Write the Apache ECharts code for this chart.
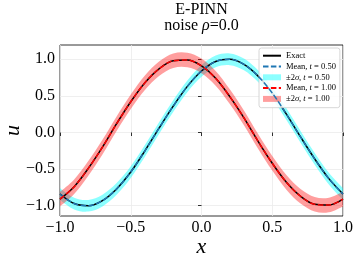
<!DOCTYPE html>
<html><head><meta charset="utf-8">
<script src="https://cdn.jsdelivr.net/npm/echarts@6/dist/echarts.min.js"></script>
<style>html,body{margin:0;padding:0;background:#fff}#c{width:357px;height:261px}</style>
</head><body><div id="c"></div>
<script>
// ---- data ----
const xValues = [-1.0,-0.9,-0.8,-0.7,-0.6,-0.5,-0.4,-0.3,-0.2,-0.1,0.0,0.1,0.2,0.3,0.4,0.5,0.6,0.7,0.8,0.9,1.0];
const exactT050 = [-0.84,-0.97,-1.00,-0.93,-0.77,-0.54,-0.25,0.06,0.36,0.63,0.84,0.97,1.00,0.93,0.77,0.54,0.25,-0.06,-0.36,-0.63,-0.84];
const meanT050  = [-0.84,-0.97,-1.00,-0.93,-0.77,-0.54,-0.25,0.06,0.36,0.63,0.84,0.97,1.00,0.93,0.77,0.54,0.25,-0.06,-0.36,-0.63,-0.84];
const twoSigmaT050 = [0.08,0.08,0.08,0.08,0.08,0.08,0.08,0.08,0.08,0.08,0.08,0.08,0.08,0.08,0.08,0.08,0.08,0.08,0.08,0.08,0.08];
const exactT100 = [-0.91,-0.74,-0.49,-0.20,0.12,0.42,0.68,0.87,0.98,0.99,0.91,0.74,0.49,0.20,-0.12,-0.42,-0.68,-0.87,-0.98,-0.99,-0.91];
const meanT100  = [-0.91,-0.74,-0.49,-0.20,0.12,0.42,0.68,0.87,0.98,0.99,0.91,0.74,0.49,0.20,-0.12,-0.42,-0.68,-0.87,-0.98,-0.99,-0.91];
const twoSigmaT100 = [0.10,0.10,0.10,0.10,0.10,0.10,0.10,0.10,0.10,0.10,0.10,0.10,0.10,0.10,0.10,0.10,0.10,0.10,0.10,0.10,0.10];
const xTicks = [-1.0,-0.5,0.0,0.5,1.0];
const yTicks = [-1.0,-0.5,0.0,0.5,1.0];
const seriesNames = ['Exact','Mean, t = 0.50','±2σ, t = 0.50','Mean, t = 1.00','±2σ, t = 1.00'];
const legendLabels = {
  'Exact': '{n|Exact}',
  'Mean, t = 0.50': '{n|Mean, }{i|t}{n| = 0.50}',
  '±2σ, t = 0.50': '{n|±2}{i|σ}{n|, }{i|t}{n| = 0.50}',
  'Mean, t = 1.00': '{n|Mean, }{i|t}{n| = 1.00}',
  '±2σ, t = 1.00': '{n|±2}{i|σ}{n|, }{i|t}{n| = 1.00}'
};
const titleLine1 = 'E-PINN';
const titleLine2 = '{a|noise }{b|ρ}{a|=0.0}';

// ---- rendering ----
const FF = '"Liberation Serif", "DejaVu Serif", serif';
const pairs = (xs, ys) => xs.map((x, i) => [x, ys[i]]);
const fmt = v => (v < -1e-9 ? '\u2212' : '') + Math.abs(v).toFixed(1);

function crPath(pts, start) {
  let d = (start ? 'M' : 'L') + pts[0][0] + ',' + pts[0][1];
  for (let i = 0; i < pts.length - 1; i++) {
    const p0 = pts[Math.max(i - 1, 0)], p1 = pts[i], p2 = pts[i + 1], p3 = pts[Math.min(i + 2, pts.length - 1)];
    const c1 = [p1[0] + (p2[0] - p0[0]) / 6, p1[1] + (p2[1] - p0[1]) / 6];
    const c2 = [p2[0] - (p3[0] - p1[0]) / 6, p2[1] - (p3[1] - p1[1]) / 6];
    d += 'C' + c1[0] + ',' + c1[1] + ' ' + c2[0] + ',' + c2[1] + ' ' + p2[0] + ',' + p2[1];
  }
  return d;
}
function bandRender(mean, half, color) {
  return function (params, api) {
    if (params.dataIndex !== 0) return;
    const up = xValues.map((x, i) => api.coord([x, mean[i] + half[i]]));
    const lo = xValues.map((x, i) => api.coord([x, mean[i] - half[i]])).reverse();
    const d = crPath(up, true) + crPath(lo, false) + 'Z';
    return { type: 'path', shape: { pathData: d }, style: { fill: color, stroke: null } };
  };
}
const cyanBand = 'rgba(0,255,255,0.45)';
const redBand = 'rgba(255,0,0,0.38)';
const noSym = { opacity: 0, color: 'rgba(0,0,0,0)', borderWidth: 0 };

const chart = echarts.init(document.getElementById('c'), null, { renderer: 'canvas' });
chart.setOption({
  animation: false,
  backgroundColor: '#fff',
  grid: { left: 60, right: 14, top: 45, bottom: 45, containLabel: false, outerBoundsMode: 'none',
    show: true, borderColor: '#000', borderWidth: 0.8, backgroundColor: 'transparent' },
  graphic: [
    { type: 'text', x: 201.5, y: 9.5, z: 10,
      style: { text: titleLine1, fontFamily: FF, fontSize: 16, fill: '#000', align: 'center', verticalAlign: 'middle' } },
    { type: 'text', x: 201.5, y: 26, z: 10,
      style: { text: titleLine2, fontFamily: FF, fontSize: 16, fill: '#000', align: 'center', verticalAlign: 'middle',
        rich: { a: { fontFamily: FF, fontSize: 16, fill: '#000' }, b: { fontFamily: FF, fontSize: 16, fontStyle: 'italic', fill: '#000' } } } }
  ],
  legend: {
    orient: 'vertical', left: 259, top: 48,
    itemWidth: 18, itemHeight: 6, itemGap: 0,
    padding: [2.3, 4, 3.4, 3],
    backgroundColor: 'rgba(255,255,255,0.85)', borderColor: '#cccccc', borderWidth: 0.8, borderRadius: 2.5,
    selectedMode: false,
    formatter: name => legendLabels[name],
    textStyle: { fontFamily: FF, fontSize: 8.5, color: '#000', lineHeight: 10.8,
      rich: { n: { fontFamily: FF, fontSize: 8.5, color: '#000', lineHeight: 10.8 }, i: { fontFamily: FF, fontSize: 8.5, fontStyle: 'italic', color: '#000', lineHeight: 10.8 } } },
    data: [
      { name: seriesNames[0], itemStyle: noSym },
      { name: seriesNames[1], itemStyle: noSym },
      { name: seriesNames[2], icon: 'rect', itemStyle: { color: cyanBand } },
      { name: seriesNames[3], itemStyle: noSym },
      { name: seriesNames[4], icon: 'rect', itemStyle: { color: redBand } }
    ]
  },
  xAxis: {
    type: 'value', min: -1, max: 1, interval: 0.5,
    axisLine: { show: false },
    axisTick: { show: true, length: 3.5, lineStyle: { color: '#000', width: 0.8 } },
    axisLabel: { formatter: fmt, fontFamily: FF, fontSize: 16, color: '#000', margin: 4 },
    splitLine: { show: true, lineStyle: { color: '#ebebeb', width: 0.8 } },
    name: 'x', nameLocation: 'middle', nameGap: 20, nameMoveOverlap: false,
    nameTextStyle: { fontFamily: FF, fontStyle: 'italic', fontSize: 22, color: '#000' }
  },
  yAxis: {
    type: 'value', min: -1.14, max: 1.195,
    axisLine: { show: false },
    axisTick: { show: true, length: 3.5, customValues: yTicks, lineStyle: { color: '#000', width: 0.8 } },
    axisLabel: { customValues: yTicks, formatter: fmt, fontFamily: FF, fontSize: 16, color: '#000', margin: 5 },
    splitLine: { show: true, lineStyle: { color: '#ebebeb', width: 0.8 } },
    name: 'u', nameLocation: 'middle', nameGap: 36, nameRotate: 90, nameMoveOverlap: false,
    nameTextStyle: { fontFamily: FF, fontStyle: 'italic', fontSize: 22, color: '#000' }
  },
  series: [
    { type: 'custom', name: seriesNames[2], clip: true, z: 2, itemStyle: { color: cyanBand },
      data: [[xValues[0], meanT050[0]]], renderItem: bandRender(meanT050, twoSigmaT050, cyanBand) },
    { type: 'custom', name: seriesNames[4], clip: true, z: 2, itemStyle: { color: redBand },
      data: [[xValues[0], meanT100[0]]], renderItem: bandRender(meanT100, twoSigmaT100, redBand) },
    { type: 'line', name: seriesNames[0], z: 3, data: pairs(xValues, exactT050), smooth: 0.33, symbol: 'none',
      lineStyle: { color: '#000', width: 1.5 }, itemStyle: { color: '#000' } },
    { type: 'line', name: seriesNames[0], z: 3, data: pairs(xValues, exactT100), smooth: 0.33, symbol: 'none',
      lineStyle: { color: '#000', width: 1.5 }, itemStyle: { color: '#000' } },
    { type: 'line', name: seriesNames[1], z: 4, data: pairs(xValues, meanT050), smooth: 0.33, symbol: 'none',
      lineStyle: { color: '#1f77b4', width: 1.5, type: [5.5, 2.4] }, itemStyle: { color: '#1f77b4' } },
    { type: 'line', name: seriesNames[3], z: 4, data: pairs(xValues, meanT100), smooth: 0.33, symbol: 'none',
      lineStyle: { color: '#ff0000', width: 1.5, type: [5.5, 2.4] }, itemStyle: { color: '#ff0000' } }
  ]
});
</script></body></html>
